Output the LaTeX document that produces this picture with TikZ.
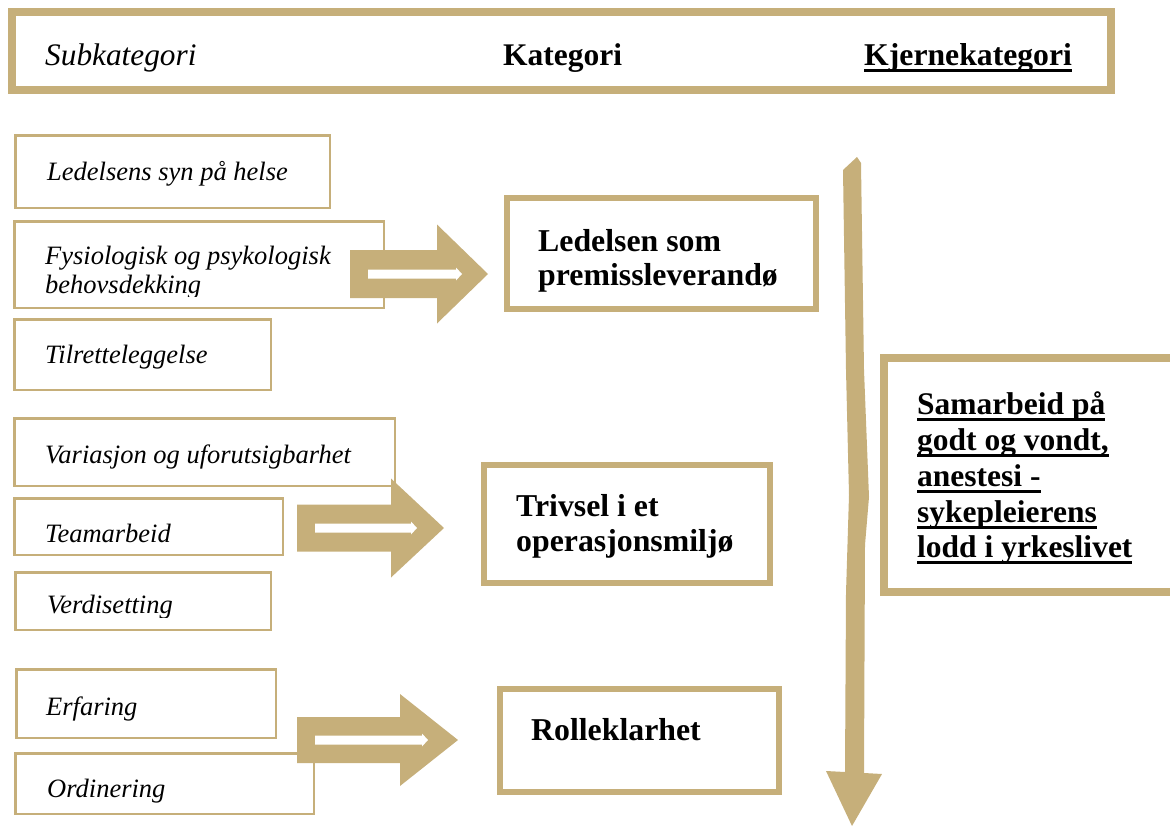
\documentclass[tikz,border=0pt]{standalone}
\usepackage{fontspec}
\setmainfont{Liberation Serif}
\newcommand{\myul}[1]{{\setbox0\hbox{#1}\rlap{\vrule height -3.5pt depth 6.5pt width \wd0}\box0}}
\definecolor{gold}{RGB}{198,175,122}
\newcommand{\goldarrow}[8]{%
  \fill[gold] (#1,#5-#6) -- (#3,#5-#6) -- (#3,#5-#7) -- (#4,#5) -- (#3,#5+#7) -- (#3,#5+#6) -- (#1,#5+#6) -- cycle;
  \fill[white] (#2,#5-4.5) -- (#8-6,#5-4.5) -- (#8-6,#5-6.5) -- (#8,#5) -- (#8-6,#5+6.5) -- (#8-6,#5+4.5) -- (#2,#5+4.5) -- cycle;
}
\begin{document}
\begin{tikzpicture}[x=1pt,y=-1pt,
  subbox/.style={draw=gold, line width=2.5pt, fill=white, inner sep=0pt},
  catbox/.style={draw=gold, line width=6pt, fill=white, inner sep=0pt},
  bigbox/.style={draw=gold, line width=8pt, fill=white, inner sep=0pt},
  subtxt/.style={font=\fontsize{26.5}{30}\selectfont\itshape, inner sep=0pt, anchor=base west},
  cattxt/.style={font=\fontsize{31.8}{35}\selectfont\bfseries, inner sep=0pt, anchor=base west},
  coretxt/.style={font=\fontsize{31.5}{35}\selectfont\bfseries, inner sep=0pt, anchor=base west},
  headtxt/.style={inner sep=0pt, anchor=base west}]
\useasboundingbox (0,0) rectangle (1170,825);
\begin{scope}
\clip (0,0) rectangle (1170,825);
% header
\node[bigbox, minimum width=1099pt, minimum height=78pt] (hdr) at (561.5,51) {};
\node[headtxt, font=\fontsize{31.3}{35}\selectfont\itshape] (h1) at (45,65) {Subkategori};
\node[headtxt, font=\fontsize{31.5}{35}\selectfont\bfseries] (h2) at (503,65) {Kategori};
\node[headtxt, font=\fontsize{31.7}{35}\selectfont\bfseries] (h3) at (864,65) {\myul{Kjernekategori}};
% subcategory boxes
\node[subbox, minimum width=314.5pt, minimum height=72.5pt] (s1) at (172.5,171.5) {};
\node[subbox, minimum width=369.5pt, minimum height=86.5pt] (s2) at (199,264.5) {};
\node[subbox, minimum width=256.5pt, minimum height=70.5pt] (s3) at (142.5,354.5) {};
\node[subbox, minimum width=380.5pt, minimum height=67.5pt] (s4) at (204.5,452) {};
\node[subbox, minimum width=268.5pt, minimum height=56.5pt] (s5) at (148.5,526.5) {};
\node[subbox, minimum width=255.5pt, minimum height=57.5pt] (s6) at (143,601) {};
\node[subbox, minimum width=259.5pt, minimum height=68.5pt] (s7) at (146,703.5) {};
\node[subbox, minimum width=298.5pt, minimum height=60.5pt] (s8) at (164.5,783.5) {};
\node[subtxt] (t1) at (47,180) {Ledelsens syn på helse};
\begin{scope}
\clip (14,222) rectangle (384,296);
\node[subtxt] (t2a) at (45,264) {Fysiologisk og psykologisk};
\node[subtxt] (t2b) at (45,293) {behovsdekking};
\end{scope}
\node[subtxt] (t3) at (45,363) {Tilretteleggelse};
\node[subtxt] (t4) at (45,463) {Variasjon og uforutsigbarhet};
\node[subtxt] (t5) at (45,542) {Teamarbeid};
\begin{scope}
\clip (15,573) rectangle (271,617);
\node[subtxt] (t6) at (47,613) {Verdisetting};
\end{scope}
\node[subtxt] (t7) at (46,715) {Erfaring};
\node[subtxt] (t8) at (47,797) {Ordinering};
% category boxes
\node[catbox, minimum width=309pt, minimum height=111pt] (k1) at (661.5,253.5) {};
\node[catbox, minimum width=286pt, minimum height=118pt] (k2) at (627,524) {};
\node[catbox, minimum width=279pt, minimum height=103pt] (k3) at (639.5,740.5) {};
\node[cattxt] (k1a) at (538,251) {Ledelsen som};
\node[cattxt] (k1b) at (538,285) {premissleverandø};
\node[cattxt] (k2a) at (516,516) {Trivsel i et};
\node[cattxt] (k2b) at (516,551) {operasjonsmiljø};
\node[cattxt] (k3a) at (531,740) {Rolleklarhet};
% core box
\node[bigbox, minimum width=290pt, minimum height=234pt] (core) at (1029,475) {};
\node[coretxt] (c1) at (917,414) {\myul{Samarbeid på}};
\node[coretxt] (c2) at (917,450) {\myul{godt og vondt,}};
\node[coretxt] (c3) at (917,486) {\myul{anestesi -}};
\node[coretxt] (c4) at (917,522) {\myul{sykepleierens}};
\node[coretxt] (c5) at (917,557) {\myul{lodd i yrkeslivet}};
% horizontal block arrows
\goldarrow{350}{368}{437}{488}{274}{24}{49.5}{462}
\goldarrow{297}{315}{391}{444}{528}{23.5}{49.5}{417}
\goldarrow{297}{315}{400}{458}{740}{23}{46}{428}
% vertical arrow
\fill[gold] (843,170) -- (857,157) -- (861,163) -- (864,370) -- (869,497) -- (865,545)
  -- (864,773) -- (882,774) -- (852,826) -- (826,771) -- (845,772) -- (846,593)
  -- (849,495) -- (846,370) -- cycle;
\end{scope}
\end{tikzpicture}
\end{document}
